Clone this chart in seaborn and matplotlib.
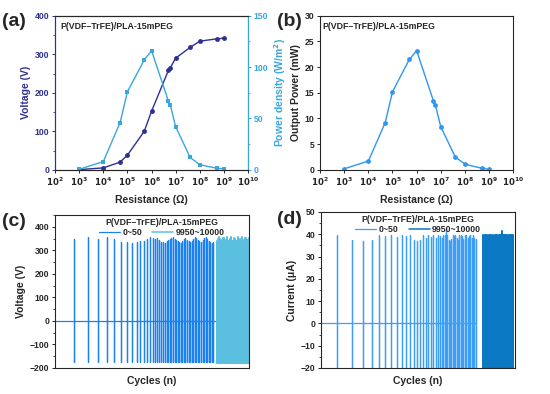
import numpy as np
import pandas as pd
import matplotlib
matplotlib.use("Agg")
import matplotlib.pyplot as plt
import seaborn as sns
from matplotlib.ticker import AutoMinorLocator, NullLocator, FixedLocator, FuncFormatter

# ---------------- data ----------------
label_film = "P(VDF\u2013TrFE)/PLA-15mPEG"

# (a)/(b) load resistance sweep
resistance = [1e3, 1e4, 5e4, 1e5, 5e5, 1e6, 5e6, 6e6, 1e7, 4e7, 1e8, 5e8, 1e9]
voltage = [0.5, 5, 20, 38, 100, 152, 258, 265, 290, 318, 334, 340, 342]
power_density = [0.5, 8, 46, 76, 107, 116, 67, 63, 42, 12, 5, 1.5, 1]
output_power = [0.2, 1.7, 9.2, 15.2, 21.5, 23.2, 13.4, 12.6, 8.4, 2.5, 1.1, 0.3, 0.1]

# (c) voltage spikes, cycles 0~50 (position on axis, peak value)
c1_pos = [9.8, 16.9, 22.3, 26.8, 30.6, 33.9, 37.0, 39.7, 42.1, 44.0, 45.9, 47.4,
          49.0, 50.4, 51.5, 52.7, 53.8, 54.8, 55.8, 56.7, 57.6, 58.4, 59.2, 60.0,
          60.8, 61.6, 62.4, 63.2, 64.0, 64.8, 65.6, 66.4, 67.2, 68.0, 68.8, 69.6,
          70.4, 71.2, 72.0, 72.8, 73.6, 74.4, 75.2, 76.0, 76.8, 77.6, 78.4, 79.2,
          80.0, 80.8, 81.6]
c1_peak = [350, 355, 350, 355, 350, 337, 335, 332, 335, 338, 342, 350,
           355, 352, 350, 352, 345, 337, 335, 333, 340, 345, 350, 352,
           355, 350, 345, 340, 335, 333, 340, 348, 352, 345, 338, 335,
           340, 350, 355, 352, 345, 340, 335, 345, 352, 355, 350, 340,
           335, 333, 335]
c1_neg = -175
c1_end = 82.5

# (c) cycles 9950~10000
c2_pos = [83.6, 84.0, 84.4, 84.8, 85.2, 85.6, 86.0, 86.4, 86.8, 87.2, 87.6, 88.0,
          88.4, 88.8, 89.2, 89.6, 90.0, 90.4, 90.8, 91.2, 91.6, 92.0, 92.4, 92.8,
          93.2, 93.6, 94.0, 94.4, 94.8, 95.2, 95.6, 96.0, 96.4, 96.8, 97.2, 97.6,
          98.0, 98.4, 98.8, 99.2, 99.6, 100.0]
c2_peak = [340, 348, 355, 350, 342, 338, 345, 354, 352, 343, 338, 346,
           355, 350, 341, 338, 347, 355, 349, 340, 339, 348, 354, 348,
           340, 340, 349, 355, 347, 340, 341, 350, 355, 346, 339, 342,
           351, 354, 345, 339, 343, 352]
c2_neg = -178

# (d) current spikes, cycles 0~50
d1_pos = [8.3, 15.7, 21.5, 26.0, 29.8, 33.2, 36.3, 38.9, 41.5, 43.9, 46.0, 47.8,
          49.6, 51.1, 52.7, 54.0, 55.4, 56.8, 58.0, 59.2, 60.2, 61.3, 62.3, 63.0,
          63.7, 64.4, 65.1, 65.8, 66.5, 67.2, 67.9, 68.6, 69.3, 70.0, 70.7, 71.4,
          72.1, 72.8, 73.5, 74.2, 74.9, 75.6, 76.3, 77.0, 77.7, 78.4, 79.1, 79.8]
d1_peak = [39.8, 37.3, 37.0, 37.5, 39.6, 39.2, 39.8, 38.6, 39.5, 39.0, 39.8, 37.5,
           37.0, 37.5, 39.5, 38.5, 39.8, 38.8, 39.5, 38.5, 39.8, 39.0, 38.5, 39.5,
           39.8, 42.0, 39.5, 37.5, 37.0, 38.0, 39.5, 39.0, 39.8, 38.5, 37.5, 39.5,
           39.8, 39.0, 38.0, 39.5, 39.8, 38.5, 39.0, 39.5, 38.5, 39.5, 38.5, 38.0]
d1_neg = -25
d1_end = 80.1

# (d) cycles 9950~10000
d2_pos = [83.7, 84.1, 84.5, 84.9, 85.3, 85.7, 86.1, 86.5, 86.9, 87.3, 87.7, 88.1,
          88.5, 88.9, 89.3, 89.7, 90.1, 90.5, 90.9, 91.3, 91.7, 92.1, 92.5, 92.9,
          93.3, 93.7, 94.1, 94.5, 94.9, 95.3, 95.7, 96.1, 96.5, 96.9, 97.3, 97.7,
          98.1, 98.5, 98.9, 99.3]
d2_peak = [39.5, 38.0, 39.8, 37.5, 39.5, 39.8, 38.0, 39.5, 37.5, 39.8, 39.5, 38.0,
           39.8, 39.5, 37.5, 39.8, 38.0, 39.5, 39.8, 37.5, 39.5, 39.8, 38.0, 39.5,
           41.5, 39.5, 37.5, 39.8, 39.5, 38.0, 39.8, 39.5, 37.5, 39.8, 39.5, 38.0,
           39.8, 39.5, 37.8, 39.5]
d2_neg = -25

# colours
navy = "#2E3192"
sky_a = "#3AA6DD"
blue_b = "#2F97F0"
c1_col, c2_col = "#1A82F0", "#5BC0E0"
d1_col, d2_col = "#3D9EF7", "#0A78C2"

# ---------------- style ----------------
sns.set_style("ticks")
plt.rcParams["font.family"] = ["Liberation Sans", "DejaVu Sans"]
plt.rcParams["font.weight"] = "bold"
plt.rcParams["axes.labelweight"] = "bold"
plt.rcParams["mathtext.default"] = "bf"
plt.rcParams["axes.linewidth"] = 0.8
plt.rcParams["xtick.major.size"] = 2.5
plt.rcParams["ytick.major.size"] = 2.5
plt.rcParams["ytick.minor.size"] = 1.5
plt.rcParams["xtick.major.width"] = 0.7
plt.rcParams["ytick.major.width"] = 0.7

TICK_FS = 6.2
LABEL_FS = 7.5
NOTE_FS = 6.3


def build_trace(pos, peak, neg, start=None, end=None):
    """spike positions/peaks -> a continuous trace for lineplot"""
    xs, ys = [], []
    if start is not None:
        xs.append(start)
        ys.append(0)
    for p, h in zip(pos, peak):
        xs += [p, p, p, p]
        ys += [0, h, neg, 0]
    if end is not None:
        xs.append(end)
        ys.append(0)
    return pd.DataFrame({"x": xs, "y": ys})


def log_label(v, _):
    return r"$\mathbf{10^{%d}}$" % int(round(np.log10(v)))


def style_log_axis(ax):
    ax.set_xscale("log")
    ax.set_xlim(1e2, 1e10)
    ax.xaxis.set_major_locator(FixedLocator([10.0 ** k for k in range(2, 11)]))
    ax.xaxis.set_major_formatter(FuncFormatter(log_label))
    ax.xaxis.set_minor_locator(NullLocator())
    ax.tick_params(axis="x", labelsize=TICK_FS, pad=1.5)
    ax.set_xlabel("Resistance (\u03a9)", fontsize=LABEL_FS, labelpad=5)


fig = plt.figure(figsize=(5.5, 3.94), dpi=100)

# ---------------- (a) ----------------
ax_a = fig.add_axes([0.100, 0.569, 0.351, 0.391])
df_a = pd.DataFrame({"R": resistance, "V": voltage, "P": power_density})
sns.lineplot(data=df_a, x="R", y="V", ax=ax_a, color=navy, lw=1.0,
             marker="o", markersize=3.5, markeredgewidth=0)
style_log_axis(ax_a)
ax_a.set_ylim(0, 400)
ax_a.yaxis.set_major_locator(FixedLocator([0, 100, 200, 300, 400]))
ax_a.yaxis.set_minor_locator(AutoMinorLocator(2))
ax_a.tick_params(axis="y", which="both", colors=navy, labelsize=TICK_FS, pad=1.5)
ax_a.set_ylabel("Voltage (V)", color=navy, fontsize=LABEL_FS, labelpad=3)
ax_a.spines["left"].set_color(navy)
ax_a.text(0.03, 0.93, label_film, transform=ax_a.transAxes, fontsize=NOTE_FS,
          fontweight="bold", va="center")

ax_a2 = ax_a.twinx()
sns.lineplot(data=df_a, x="R", y="P", ax=ax_a2, color=sky_a, lw=1.0,
             marker="s", markersize=3.2, markeredgewidth=0)
ax_a2.set_ylim(0, 150)
ax_a2.yaxis.set_major_locator(FixedLocator([0, 50, 100, 150]))
ax_a2.yaxis.set_minor_locator(AutoMinorLocator(2))
ax_a2.tick_params(axis="y", which="both", colors=sky_a, labelsize=TICK_FS, pad=1.5)
ax_a2.set_ylabel("Power density (W/m$^\\mathbf{2}$)", color=sky_a,
                 fontsize=LABEL_FS, labelpad=3)
ax_a2.spines["right"].set_color(sky_a)
ax_a2.spines["left"].set_color(navy)
ax_a2.set_xlim(1e2, 1e10)

# ---------------- (b) ----------------
ax_b = fig.add_axes([0.582, 0.569, 0.351, 0.391])
df_b = pd.DataFrame({"R": resistance, "P": output_power})
sns.lineplot(data=df_b, x="R", y="P", ax=ax_b, color=blue_b, lw=1.0,
             marker="h", markersize=3.8, markeredgewidth=0)
style_log_axis(ax_b)
ax_b.set_ylim(0, 30)
ax_b.yaxis.set_major_locator(FixedLocator([0, 5, 10, 15, 20, 25, 30]))
ax_b.yaxis.set_minor_locator(NullLocator())
ax_b.tick_params(axis="y", labelsize=TICK_FS, pad=1.5)
ax_b.set_ylabel("Output Power (mW)", fontsize=LABEL_FS, labelpad=3)
ax_b.text(0.01, 0.93, label_film, transform=ax_b.transAxes, fontsize=NOTE_FS,
          fontweight="bold", va="center")

# ---------------- (c) ----------------
ax_c = fig.add_axes([0.100, 0.066, 0.353, 0.388])
tr_c1 = build_trace(c1_pos, c1_peak, c1_neg, start=0, end=c1_end)
tr_c2 = build_trace(c2_pos, c2_peak, c2_neg)
sns.lineplot(data=tr_c1, x="x", y="y", ax=ax_c, color=c1_col, lw=0.9,
             sort=False, estimator=None, label="0~50")
sns.lineplot(data=tr_c2, x="x", y="y", ax=ax_c, color=c2_col, lw=1.1,
             sort=False, estimator=None, label="9950~10000")
ax_c.set_xlim(0, 100)
ax_c.set_ylim(-200, 450)
ax_c.set_xticks([])
ax_c.yaxis.set_major_locator(FixedLocator([-200, -100, 0, 100, 200, 300, 400]))
ax_c.yaxis.set_minor_locator(AutoMinorLocator(2))
ax_c.tick_params(axis="y", labelsize=TICK_FS, pad=1.5)
ax_c.set_xlabel("Cycles (n)", fontsize=LABEL_FS, labelpad=6)
ax_c.set_ylabel("Voltage (V)", fontsize=LABEL_FS, labelpad=3)
leg = ax_c.legend(title=label_film, loc="upper center", bbox_to_anchor=(0.55, 1.02),
                  ncol=2, frameon=False, fontsize=NOTE_FS, title_fontsize=NOTE_FS,
                  handlelength=2.4, columnspacing=1.2, handletextpad=0.3,
                  borderpad=0.2, labelspacing=0.1)
leg.get_title().set_fontweight("bold")

# ---------------- (d) ----------------
ax_d = fig.add_axes([0.584, 0.066, 0.352, 0.396])
tr_d1 = build_trace(d1_pos, d1_peak, d1_neg, start=0, end=d1_end)
tr_d2 = build_trace(d2_pos, d2_peak, d2_neg)
sns.lineplot(data=tr_d1, x="x", y="y", ax=ax_d, color=d1_col, lw=0.9,
             sort=False, estimator=None, label="0~50")
sns.lineplot(data=tr_d2, x="x", y="y", ax=ax_d, color=d2_col, lw=1.1,
             sort=False, estimator=None, label="9950~10000")
ax_d.set_xlim(0, 100)
ax_d.set_ylim(-20, 50)
ax_d.set_xticks([])
ax_d.yaxis.set_major_locator(FixedLocator([-20, -10, 0, 10, 20, 30, 40, 50]))
ax_d.yaxis.set_minor_locator(AutoMinorLocator(2))
ax_d.tick_params(axis="y", labelsize=TICK_FS, pad=1.5)
ax_d.set_xlabel("Cycles (n)", fontsize=LABEL_FS, labelpad=6)
ax_d.set_ylabel("Current (\u03bcA)", fontsize=LABEL_FS, labelpad=3)
leg = ax_d.legend(title=label_film, loc="upper center", bbox_to_anchor=(0.5, 1.02),
                  ncol=2, frameon=False, fontsize=NOTE_FS, title_fontsize=NOTE_FS,
                  handlelength=2.4, columnspacing=1.2, handletextpad=0.3,
                  borderpad=0.2, labelspacing=0.1)
leg.get_title().set_fontweight("bold")

# panel letters
for x, y, s in [(0.003, 0.945, "(a)"), (0.503, 0.945, "(b)"),
                (0.003, 0.437, "(c)"), (0.503, 0.442, "(d)")]:
    fig.text(x, y, s, fontsize=14, fontweight="bold", va="center")

fig.savefig("out.png", dpi=100)
